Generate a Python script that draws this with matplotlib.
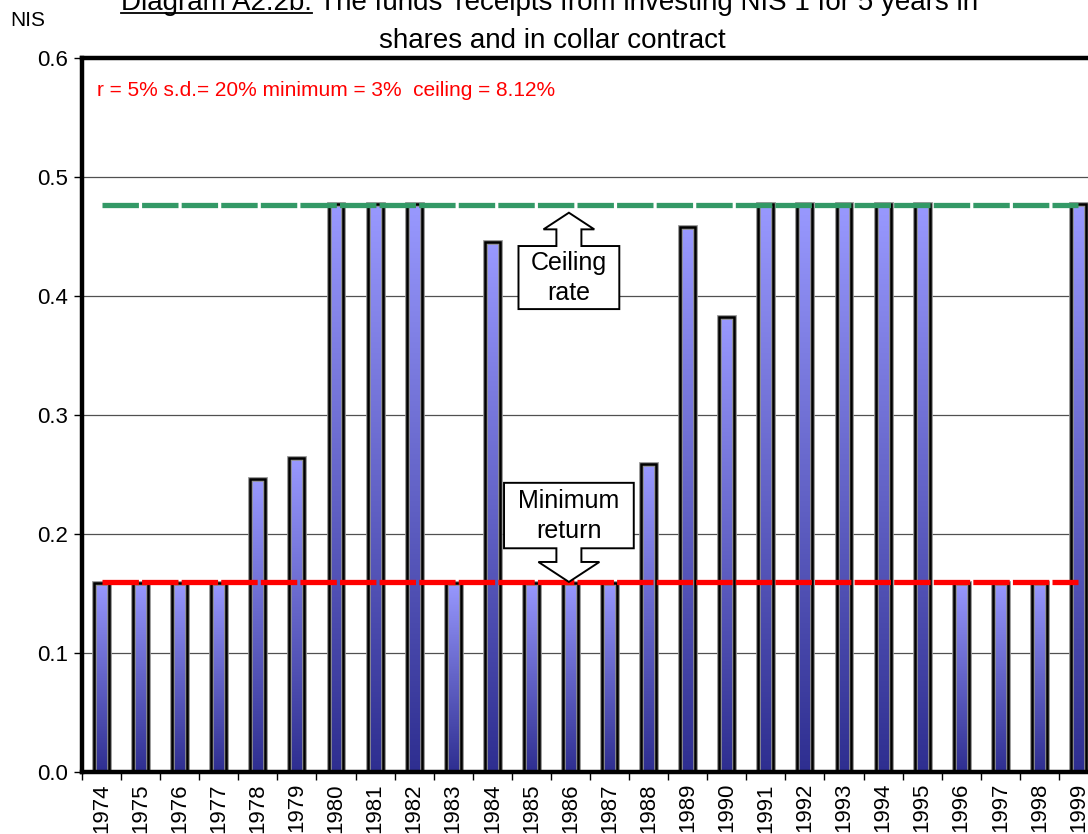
"""Fund receipts per NIS 1 invested for 5 years: shares vs. collar contract."""
import matplotlib

matplotlib.use("Agg")
import matplotlib.pyplot as plt
import numpy as np
from matplotlib.colors import LinearSegmentedColormap
from matplotlib.lines import Line2D
from matplotlib.patches import Polygon, Rectangle

plt.rcParams["font.family"] = ["Liberation Sans", "DejaVu Sans"]

years = [str(y) for y in range(1974, 2000)]
receipts = [0.159, 0.159, 0.159, 0.159, 0.246, 0.264, 0.477, 0.477, 0.477,
            0.159, 0.445, 0.159, 0.159, 0.159, 0.259, 0.458, 0.382, 0.477,
            0.477, 0.477, 0.477, 0.477, 0.159, 0.159, 0.159, 0.477]
minimum_return = [0.1593] * len(years)
ceiling_rate = [0.4767] * len(years)

yticks = [0.0, 0.1, 0.2, 0.3, 0.4, 0.5, 0.6]
note = "r = 5% s.d.= 20% minimum = 3%  ceiling = 8.12%"
title_prefix = "Diagram A2.2b:"
title_line1 = title_prefix + " The funds' receipts from investing NIS 1 for 5 years in"
title_line2 = "shares and in collar contract"

W, H = 1088, 834
fig = plt.figure(figsize=(W / 100, H / 100), dpi=100)
# plot area runs past the right edge of the figure
ax = fig.add_axes([82 / W, 62 / H, 1016 / W, 714 / H])

x = np.arange(len(years))
bar_w = 0.38
grad = LinearSegmentedColormap.from_list("bar", ["#2e2e90", "#9999ff"])
gimg = np.linspace(0, 1, 256).reshape(-1, 1)

for xi, v in zip(x, receipts):
    x0 = xi - bar_w / 2
    im = ax.imshow(gimg, cmap=grad, origin="lower", aspect="auto",
                   extent=(x0, x0 + bar_w, 0, v), zorder=2)
    clip = Rectangle((x0, 0), bar_w, v, transform=ax.transData)
    im.set_clip_path(clip)
    ax.add_patch(Rectangle((x0, 0), bar_w, v, fill=False, edgecolor="#909090",
                           lw=3.4, zorder=2.5))
    ax.add_patch(Rectangle((x0, 0), bar_w, v, fill=False, edgecolor="black",
                           lw=1.8, zorder=2.6))

# dash lengths are in multiples of the line width
ax.plot(x, minimum_return, color="#ff0000", lw=3.8, dashes=(6.9, 0.6),
        solid_capstyle="butt", dash_capstyle="butt", zorder=3)
ax.plot(x, ceiling_rate, color="#339966", lw=3.8, dashes=(6.9, 0.6),
        solid_capstyle="butt", dash_capstyle="butt", zorder=3)

ax.set_xlim(-0.5, len(years) - 0.5)
ax.set_ylim(0, 0.6)
ax.set_yticks(yticks)
ax.set_yticklabels([f"{t:.1f}" for t in yticks], fontsize=16)
ax.yaxis.grid(True, color="#505050", lw=0.9, zorder=0)
ax.set_axisbelow(True)

# boundary ticks between categories, year labels at the centres
ax.set_xticks(np.arange(len(years) + 1) - 0.5)
ax.set_xticklabels([])
ax.set_xticks(x, minor=True)
ax.set_xticklabels(years, minor=True, rotation=90, fontsize=16)
ax.tick_params(axis="x", which="major", length=6, width=1, direction="out")
ax.tick_params(axis="x", which="minor", length=0, pad=8)
ax.tick_params(axis="y", length=6, width=1, direction="out", pad=4)
for s in ax.spines.values():
    s.set_linewidth(3.2)


def callout(cx, box, head, tip, half_box, half_neck, half_head, label):
    """Block arrow with a text box; head/tip are y values of the arrow head."""
    y0, y1 = box
    near, far = (y1, y0) if tip > y1 else (y0, y1)
    pts = [(cx - half_box, far), (cx + half_box, far), (cx + half_box, near),
           (cx + half_neck, near), (cx + half_neck, head), (cx + half_head, head),
           (cx, tip), (cx - half_head, head), (cx - half_neck, head),
           (cx - half_neck, near), (cx - half_box, near)]
    ax.add_patch(Polygon(pts, closed=True, facecolor="white", edgecolor="black",
                         lw=1.4, zorder=5))
    ax.text(cx, (y0 + y1) / 2, label, ha="center", va="center", fontsize=18,
            linespacing=1.32, zorder=6)


callout(11.96, (0.389, 0.442), 0.456, 0.470, 1.29, 0.32, 0.65, "Ceiling\nrate")
callout(11.96, (0.188, 0.243), 0.1765, 0.1597, 1.66, 0.32, 0.78, "Minimum\nreturn")

ax.text(-0.12, 0.573, note, color="#ff0000", fontsize=15, va="center", ha="left",
        zorder=6)

fig.text(28 / W, 1 - 20 / H, "NIS", fontsize=15, ha="center", va="center")
t1 = fig.text(550 / W, 1 - 10 / H, title_line1, fontsize=20, ha="center",
              va="baseline")
fig.text(552 / W, 1 - 48 / H, title_line2, fontsize=20, ha="center",
         va="baseline")

# underline the diagram number
renderer = fig.canvas.get_renderer()
bb = t1.get_window_extent(renderer)
probe = fig.text(0, 0, title_prefix, fontsize=20)
pw = probe.get_window_extent(renderer).width
probe.remove()
uy = 1 - 13 / H
fig.add_artist(Line2D([bb.x0 / W, (bb.x0 + pw) / W], [uy, uy], color="black",
                      lw=1.3, transform=fig.transFigure))

fig.savefig("out.png", dpi=100)
